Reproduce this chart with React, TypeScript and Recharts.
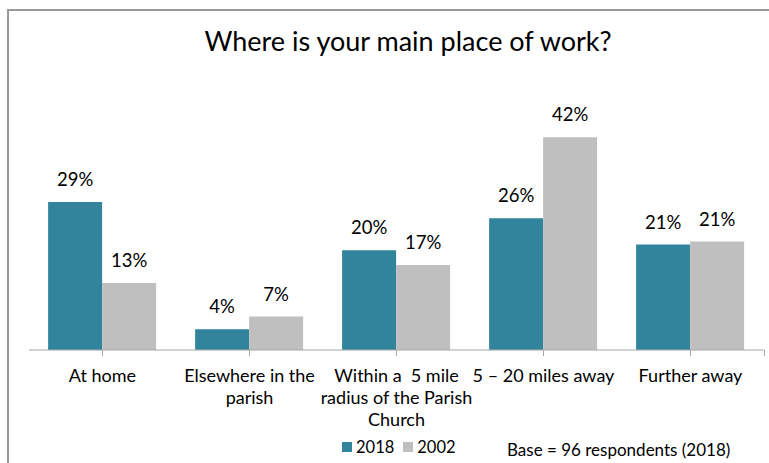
import React from 'react';
import { BarChart, Bar, XAxis, YAxis, LabelList } from 'recharts';

const categories = [
  'At home',
  'Elsewhere in the\nparish',
  'Within a  5 mile\nradius of the Parish\nChurch',
  '5 – 20 miles away',
  'Further away',
];
const values2018 = [29.2, 4.1, 19.7, 26.0, 20.8];
const values2002 = [13.2, 6.6, 16.8, 42.0, 21.4];
const seriesNames = ['2018', '2002'];

const TEAL = '#31849B';
const GREY = '#BFBFBF';
const FONT = 'Lato, "Liberation Sans", Arial, sans-serif';
const FS = 18;

const data = categories.map((name, i) => ({
  name,
  y2018: values2018[i],
  y2002: values2002[i],
}));

const CategoryTick = (props: any) => {
  const { x, y, payload } = props;
  const lines = String(payload.value).split('\n');
  return (
    <text x={x} y={y + 24} textAnchor="middle" fill="#000" fontSize={FS} fontFamily={FONT}>
      {lines.map((l, i) => (
        <tspan key={i} x={x} dy={i === 0 ? 0 : 22} style={{ whiteSpace: 'pre' }}>
          {l}
        </tspan>
      ))}
    </text>
  );
};

const fmt = (v: any) => `${Math.round(Number(v))}%`;

export default function App() {
  return (
    <div style={{ position: 'relative', width: 769, height: 463, background: '#fff', overflow: 'hidden' }}>
      <style>{`body{margin:0}`}</style>
      <div style={{ position: 'absolute', left: 7, top: 9, right: 0, bottom: 0, borderLeft: '2px solid #9a9a9a', borderTop: '2px solid #9a9a9a' }} />
      <div style={{ position: 'absolute', left: 0, width: 816, top: 24, textAlign: 'center', fontFamily: FONT, fontSize: 27, color: '#000' }}>
        Where is your main place of work?
      </div>
      <BarChart
        width={769}
        height={463}
        data={data}
        margin={{ top: 122, right: 5, bottom: 23, left: 29 }}
        barCategoryGap="13%"
        barGap={0}
        style={{ position: 'absolute', left: 0, top: 0 }}
      >
        <XAxis
          dataKey="name"
          interval={0}
          height={90}
          axisLine={{ stroke: '#A6A6A6' }}
          tickLine={{ stroke: '#A6A6A6' }}
          tickSize={6}
          tick={<CategoryTick />}
        />
        <YAxis hide domain={[0, 45]} />
        <Bar dataKey="y2018" name="2018" fill={TEAL} isAnimationActive={false}>
          <LabelList dataKey="y2018" position="top" offset={16} formatter={fmt} fill="#000" fontSize={18.5} fontFamily={FONT} />
        </Bar>
        <Bar dataKey="y2002" name="2002" fill={GREY} isAnimationActive={false}>
          <LabelList dataKey="y2002" position="top" offset={16} formatter={fmt} fill="#000" fontSize={18.5} fontFamily={FONT} />
        </Bar>
      </BarChart>
      <div style={{ position: 'absolute', left: 764, top: 350, width: 1, height: 6, background: '#A6A6A6' }} />
      <div style={{ position: 'absolute', left: 342, top: 436, display: 'flex', fontFamily: FONT, fontSize: 16.5, lineHeight: '22px' }}>
        {seriesNames.map((s, i) => (
          <div key={s} style={{ display: 'flex', alignItems: 'center', marginRight: 9 }}>
            <span style={{ width: 10, height: 10, background: i === 0 ? TEAL : GREY, marginRight: 4, display: 'inline-block' }} />
            <span>{s}</span>
          </div>
        ))}
      </div>
      <div style={{ position: 'absolute', left: 507, top: 439, fontFamily: FONT, fontSize: 17, lineHeight: '22px', color: '#000' }}>
        Base = 96 respondents (2018)
      </div>
    </div>
  );
}
